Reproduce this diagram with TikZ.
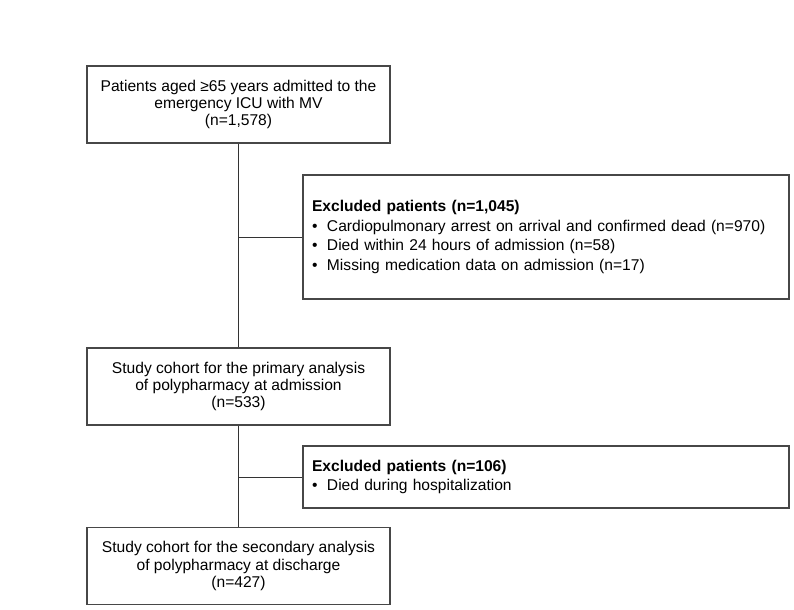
\documentclass[tikz,border=0pt]{standalone}
\usepackage{fontspec}
\setmainfont{Liberation Sans}
\usepackage{tikz}
\usetikzlibrary{positioning, calc}
\newcommand{\bul}{\makebox[11.25pt][l]{\textbullet}}
\tikzset{
  flow box/.style={
    draw=black!72, rectangle, line width=1pt,
    minimum width=227.25pt, minimum height=57.75pt,
    align=center, font=\fontsize{11.7}{12.8}\selectfont
  },
  excl box/.style={
    draw=black!72, rectangle, line width=1pt,
    minimum width=364.5pt, text width=351pt, inner xsep=6.75pt,
    align=left, font=\fontsize{11.7}{14.6}\selectfont
  },
  flow line/.style={
    draw=black!80, line width=0.6pt
  },
}
\begin{document}
\begin{tikzpicture}[x=0.75pt, y=-0.75pt]
  \useasboundingbox (0,0) rectangle (794,610);

  % Main flow
  \node[flow box] (admit) at (238.5, 104.5)
    {Patients aged ≥65 years admitted to the\\ emergency ICU with MV\\ (n=1,578)};
  \node[flow box] (primary) at (238.5, 386.5)
    {Study cohort for the primary analysis\\ of polypharmacy at admission\\ (n=533)};
  \node[flow box] (secondary) at (238.5, 566)
    {Study cohort for the secondary analysis\\ of polypharmacy at discharge\\ (n=427)};

  % Exclusions
  \node[excl box, minimum height=93pt] (excl1) at (546, 237)
    {\textbf{Excluded patients (n=1,045)}\\
     \bul Cardiopulmonary arrest on arrival and confirmed dead (n=970)\\
     \bul Died within 24 hours of admission (n=58)\\
     \bul Missing medication data on admission (n=17)};
  \node[excl box, minimum height=46.5pt] (excl2) at (546, 477)
    {\textbf{Excluded patients (n=106)}\\
     \bul Died during hospitalization};

  % Connectors
  \draw[flow line] (admit.south) -- (primary.north);
  \draw[flow line] (primary.south) -- (secondary.north);
  \draw[flow line] (excl1.west) -- (excl1.west -| admit.south);
  \draw[flow line] (excl2.west) -- (excl2.west -| primary.south);

\end{tikzpicture}
\end{document}
